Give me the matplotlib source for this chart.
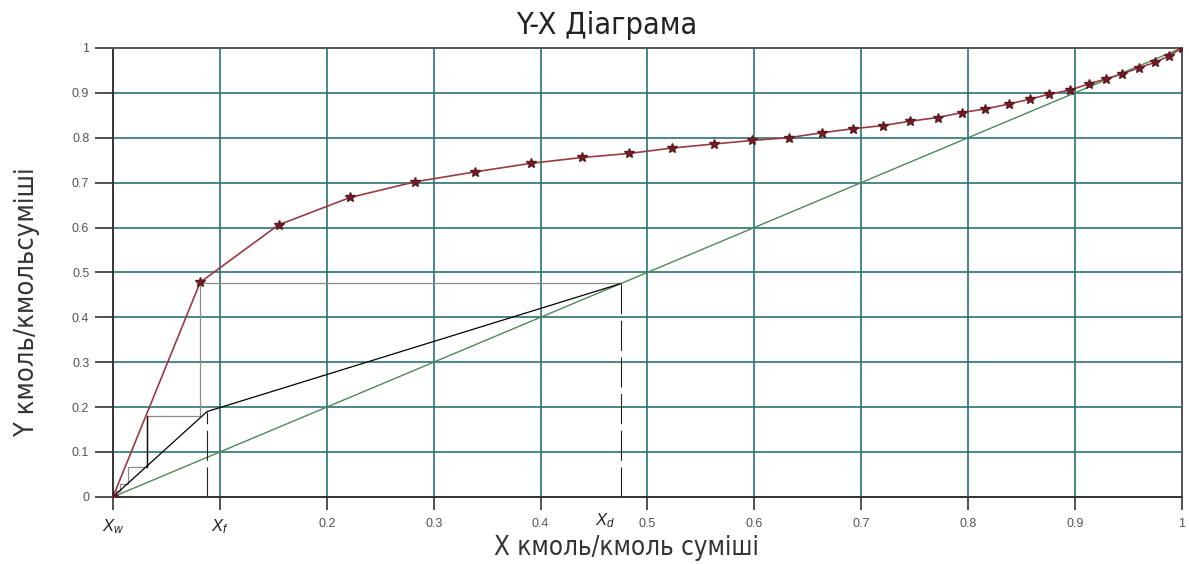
import matplotlib
matplotlib.use('Agg')
import matplotlib.pyplot as plt

# крива рівноваги
x_eq = [0.0, 0.0816, 0.155, 0.222, 0.283, 0.339, 0.391, 0.439, 0.483, 0.523,
        0.562, 0.598, 0.632, 0.663, 0.692, 0.720, 0.746, 0.772, 0.794, 0.816,
        0.838, 0.858, 0.876, 0.895, 0.913, 0.929, 0.944, 0.960, 0.975, 0.988, 1.0]
y_eq = [0.0, 0.478, 0.606, 0.667, 0.702, 0.724, 0.743, 0.756, 0.765, 0.777,
        0.786, 0.794, 0.800, 0.811, 0.820, 0.827, 0.837, 0.845, 0.856, 0.864,
        0.875, 0.886, 0.897, 0.906, 0.920, 0.931, 0.942, 0.956, 0.968, 0.982, 1.0]

# складові точки
x_w = 0.0
x_f = 0.088
x_d = 0.475
y_f = 0.19

# робочі лінії
x_work = [x_w, x_f, x_d]
y_work = [x_w, y_f, x_d]

# ступені (сходинки)
x_steps = [x_d, 0.0816, 0.0816, 0.032, 0.032, 0.014, 0.014, 0.007, 0.007, 0.003, 0.003]
y_steps = [0.477, 0.477, 0.18, 0.18, 0.066, 0.066, 0.028, 0.028, 0.012, 0.012, 0.0]

x_ticks = [0, 0.1, 0.2, 0.3, 0.4, 0.5, 0.6, 0.7, 0.8, 0.9, 1.0]
x_ticklabels = [r'$\mathit{X_w}$', r'$\mathit{X_f}$', '0.2', '0.3', '0.4', '0.5', '0.6', '0.7', '0.8', '0.9', '1']
y_ticks = [0, 0.1, 0.2, 0.3, 0.4, 0.5, 0.6, 0.7, 0.8, 0.9, 1.0]
y_ticklabels = ['0', '0.1', '0.2', '0.3', '0.4', '0.5', '0.6', '0.7', '0.8', '0.9', '1']

plt.rcParams['font.family'] = ['Liberation Sans', 'DejaVu Sans']
plt.rcParams['mathtext.fontset'] = 'custom'
plt.rcParams['mathtext.it'] = 'Liberation Sans:italic'

fig = plt.figure(figsize=(11.89, 5.64), dpi=100)
ax = fig.add_axes([0.095, 0.119, 0.899, 0.796])

grid_c = '#2c7275'
for v in x_ticks[1:-1]:
    ax.axvline(v, color=grid_c, lw=1.2, zorder=0)
for v in y_ticks[1:-1]:
    ax.axhline(v, color=grid_c, lw=1.2, zorder=0)

# діагональ
ax.plot([0, 1], [0, 1], color='#4d8a55', lw=1.0, zorder=2)

# сходинки
ax.plot(x_steps, y_steps, color='#8c8c8c', lw=0.9, zorder=2)
ax.plot(x_steps[3:5], y_steps[3:5], color='#111111', lw=1.0, zorder=3)

# робочі лінії
ax.plot(x_work, y_work, color='black', lw=0.9, zorder=3)

# вертикальні штрихові
ax.plot([x_f, x_f], [0, y_f], color='#222222', lw=0.8, linestyle=(0, (27, 6)), zorder=3)
ax.plot([x_d, x_d], [0, x_d], color='#222222', lw=0.8, linestyle=(0, (27, 6)), zorder=3)

# крива рівноваги
ax.plot(x_eq, y_eq, color='#9a3b40', lw=1.2, marker='*', markersize=7,
        markerfacecolor='#7a1a28', markeredgecolor='#5a1a20', zorder=4)

ax.set_xlim(0, 1)
ax.set_ylim(0, 1)
ax.set_xticks(x_ticks)
ax.set_xticklabels(x_ticklabels)
ax.set_yticks(y_ticks)
ax.set_yticklabels(y_ticklabels)
for i, lab in enumerate(ax.get_xticklabels()):
    if i < 2:
        lab.set_fontsize(12)
        lab.set_color('#222222')
    else:
        lab.set_fontsize(9)
        lab.set_color('#555555')
for lab in ax.get_yticklabels():
    lab.set_fontsize(9)
    lab.set_color('#555555')
ax.tick_params(axis='x', length=9, width=1.2, color='#333333', pad=6)
ax.tick_params(axis='y', length=13, width=1.2, color='#333333', pad=4)

ax.text(x_d - 0.015, -0.033, r'$\mathit{X_d}$', fontsize=12, ha='center', va='top',
        transform=ax.transData, clip_on=False, color='#222222')

for s in ['left', 'bottom']:
    ax.spines[s].set_color('#333333')
    ax.spines[s].set_linewidth(1.4)
for s in ['top', 'right']:
    ax.spines[s].set_color('#555555')
    ax.spines[s].set_linewidth(1.4)

ax.set_title('Y-X Діаграма', fontsize=22, family=['DejaVu Sans'], fontweight='light',
             fontstretch='condensed', color='#222222', pad=10, x=0.462)
ax.set_xlabel('X кмоль/кмоль суміші', fontsize=18.5, family=['DejaVu Sans'],
              fontstretch='condensed', color='#333333')
ax.set_ylabel('Y кмоль/кмольсуміші', fontsize=19.5, family=['DejaVu Sans'],
              fontstretch='condensed', color='#333333')
ax.xaxis.set_label_coords(0.48, -0.085)
ax.yaxis.set_label_coords(-0.068, 0.434)

fig.savefig('out.png', dpi=100)
